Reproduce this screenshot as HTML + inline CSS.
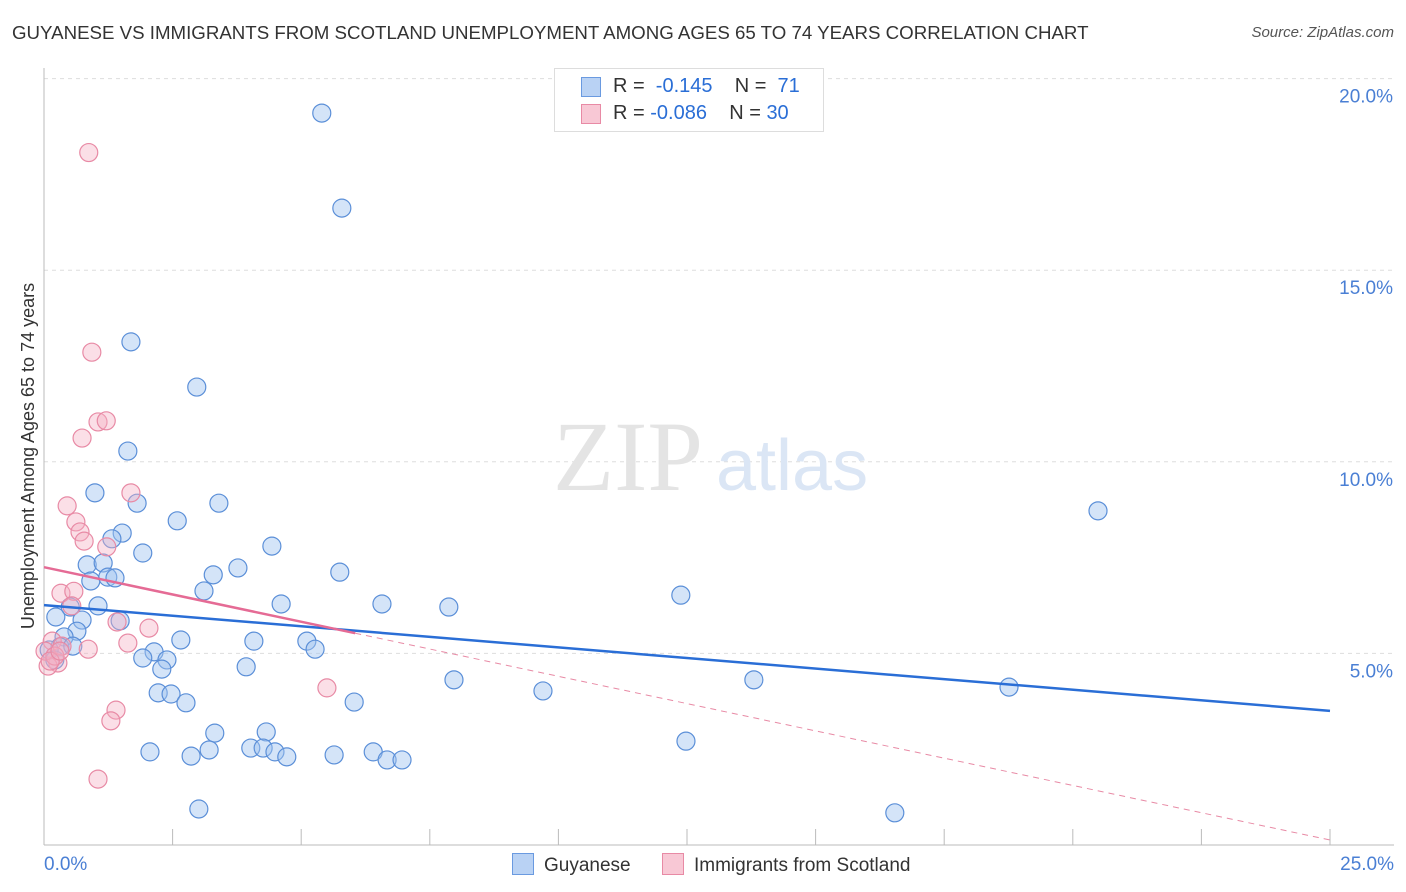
<!DOCTYPE html>
<html><head><meta charset="utf-8"><style>
body{margin:0;background:#fff;font-family:"Liberation Sans",sans-serif;}
#wrap{position:relative;width:1406px;height:892px;overflow:hidden}
.t{position:absolute;white-space:nowrap}
</style></head><body><div id="wrap">
<div class="t" style="left:12px;top:22px;font-size:18.7px;color:#333">GUYANESE VS IMMIGRANTS FROM SCOTLAND UNEMPLOYMENT AMONG AGES 65 TO 74 YEARS CORRELATION CHART</div>
<div class="t" style="right:12px;top:24px;font-size:15px;color:#555;font-style:italic">Source: ZipAtlas.com</div>
<svg id="c" width="1406" height="892" style="position:absolute;left:0;top:0"></svg>
<div class="t" style="left:554px;top:68px;width:268px;height:62px;border:1px solid #ddd;background:#fff;font-size:20px;color:#333">
<div style="position:absolute;left:26px;top:8px;width:18px;height:18px;background:#b9d2f4;border:1px solid #6a9ae0"></div>
<div style="position:absolute;left:58px;top:6px">R = <span style="color:#2a6ed6">&nbsp;-0.145</span>&nbsp;&nbsp;&nbsp; N = &nbsp;<span style="color:#2a6ed6">71</span></div>
<div style="position:absolute;left:26px;top:35px;width:18px;height:18px;background:#f8c8d5;border:1px solid #e88aa5"></div>
<div style="position:absolute;left:58px;top:33px">R = <span style="color:#2a6ed6">-0.086</span>&nbsp;&nbsp;&nbsp; N = <span style="color:#2a6ed6">30</span></div>
</div>
<div class="t" style="left:512px;top:853px;font-size:19px;color:#333"><span style="display:inline-block;width:20px;height:20px;background:#b9d2f4;border:1px solid #6a9ae0;vertical-align:-4px;margin-right:10px"></span>Guyanese</div>
<div class="t" style="left:662px;top:853px;font-size:19px;color:#333"><span style="display:inline-block;width:20px;height:20px;background:#f8c8d5;border:1px solid #e88aa5;vertical-align:-4px;margin-right:10px"></span>Immigrants from Scotland</div>
</div>
<script>
const yTicks=[5,10,15,20];
const yTickLabels=["5.0%","10.0%","15.0%","20.0%"];
const guyX=[5.40,5.79,1.69,2.97,1.63,0.99,1.81,3.40,2.59,1.52,1.32,1.92,4.43,0.84,1.15,3.77,3.29,5.75,0.91,1.24,1.38,3.11,4.61,6.57,7.87,0.51,1.05,0.23,0.74,1.48,0.64,2.66,4.08,5.11,5.27,0.39,0.31,0.56,2.14,2.39,1.92,2.29,3.93,7.97,9.70,2.22,2.47,2.76,6.03,3.32,4.32,2.06,2.86,3.21,4.02,4.26,4.49,4.72,5.64,6.40,6.67,6.96,12.48,3.01,16.54,12.38,20.49,13.80,18.76,0.10,0.21];
const guyY=[19.10,16.62,13.13,11.95,10.28,9.19,8.92,8.92,8.46,8.14,7.99,7.62,7.80,7.31,7.36,7.23,7.05,7.12,6.89,6.99,6.97,6.63,6.29,6.29,6.21,6.21,6.24,5.95,5.87,5.85,5.58,5.35,5.32,5.32,5.11,5.43,5.17,5.19,5.04,4.83,4.88,4.59,4.65,4.31,4.02,3.97,3.94,3.71,3.73,2.92,2.95,2.43,2.32,2.48,2.53,2.53,2.43,2.30,2.35,2.43,2.22,2.22,2.71,0.94,0.84,6.52,8.72,4.31,4.12,5.09,4.83];
const scoX=[0.87,0.93,1.05,1.21,0.74,0.45,0.62,0.70,0.78,1.22,1.69,0.33,0.58,0.54,2.04,1.63,1.42,0.86,0.16,0.27,0.08,0.35,1.40,1.30,1.05,5.50,0.02,0.21,0.12,0.31];
const scoY=[18.07,12.86,11.04,11.07,10.62,8.85,8.43,8.17,7.93,7.78,9.19,6.57,6.62,6.24,5.66,5.27,5.82,5.11,5.32,4.75,4.67,5.19,3.52,3.24,1.72,4.10,5.06,4.93,4.80,5.06];
const guyTrend=[6.26,3.50];
const scoTrend=[7.25,0.13];
const scoSolidEnd=6.05;
const NS="http://www.w3.org/2000/svg",svg=document.getElementById('c');
const X=v=>44+v/25*1286, Y=v=>845-v/5*191.6;
function mk(t,a,name){const e=document.createElementNS(NS,t);for(const k in a)e.setAttribute(k,a[k]);


svg.appendChild(e);return e;}
yTicks.forEach((v,i)=>{mk('line',{x1:44,x2:1394,y1:Y(v),y2:Y(v),stroke:'#ddd','stroke-dasharray':'4,4'},'gridline');
const t=mk('text',{x:1393,y:Y(v)+24,'text-anchor':'end','font-size':19,fill:'#4a7fd4','font-family':'Liberation Sans'},'y-tick-label');t.textContent=yTickLabels[i];});
mk('line',{x1:44,x2:44,y1:68,y2:845,stroke:'#bbb'},'y-axis');
mk('line',{x1:44,x2:1394,y1:845,y2:845,stroke:'#bbb'},'x-axis');
for(let i=1;i<=10;i++)mk('line',{x1:X(i*2.5),x2:X(i*2.5),y1:829,y2:845,stroke:'#bbb'},'x-tick');
let tx=mk('text',{x:44,y:870,'font-size':19,fill:'#4a7fd4','font-family':'Liberation Sans'},'x-min-label');tx.textContent='0.0%';
tx=mk('text',{x:1394,y:870,'text-anchor':'end','font-size':19,fill:'#4a7fd4','font-family':'Liberation Sans'},'x-max-label');tx.textContent='25.0%';
tx=mk('text',{x:34,y:456,'text-anchor':'middle','font-size':18,fill:'#333','font-family':'Liberation Sans',transform:'rotate(-90 34 456)'},'y-axis-title');tx.textContent='Unemployment Among Ages 65 to 74 years';
tx=mk('text',{x:553,y:490,'font-size':100,fill:'#e4e4e4','font-family':'Liberation Serif'},'watermark-zip');tx.textContent='ZIP';
tx=mk('text',{x:716,y:490,'font-size':72,fill:'#dbe6f5','font-family':'Liberation Sans'},'watermark-atlas');tx.textContent='atlas';
guyX.forEach((v,i)=>mk('circle',{cx:X(v),cy:Y(guyY[i]),r:9,fill:'rgba(160,195,240,0.45)',stroke:'#5b8fd8','stroke-width':1.2},'guyanese-point'));
scoX.forEach((v,i)=>mk('circle',{cx:X(v),cy:Y(scoY[i]),r:9,fill:'rgba(244,175,195,0.4)',stroke:'#e88aa5','stroke-width':1.2},'scotland-point'));
mk('line',{x1:X(0),y1:Y(guyTrend[0]),x2:X(25),y2:Y(guyTrend[1]),stroke:'#2a6ed6','stroke-width':2.5},'guyanese-trendline');
const sy=x=>scoTrend[0]+(scoTrend[1]-scoTrend[0])*x/25;
mk('line',{x1:X(0),y1:Y(sy(0)),x2:X(scoSolidEnd),y2:Y(sy(scoSolidEnd)),stroke:'#e56b95','stroke-width':2.5},'scotland-trendline');
mk('line',{x1:X(scoSolidEnd),y1:Y(sy(scoSolidEnd)),x2:X(25),y2:Y(sy(25)),stroke:'#e88aa5','stroke-width':1,'stroke-dasharray':'6,5'},'scotland-trend-extension');
</script>
</body></html>
